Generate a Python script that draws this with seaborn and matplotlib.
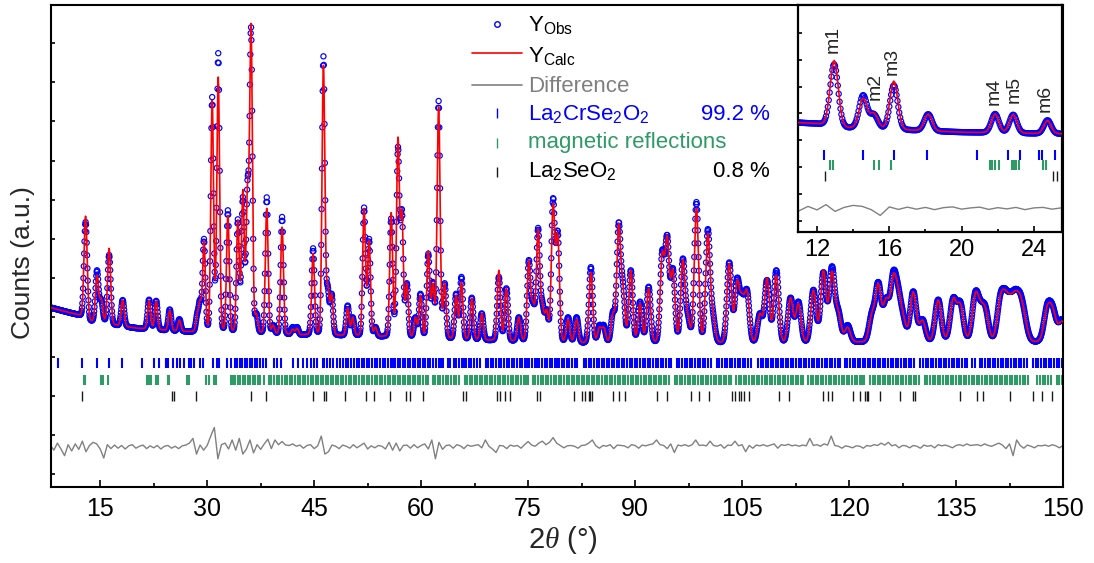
import numpy as np
import matplotlib
matplotlib.use("Agg")
import matplotlib.pyplot as plt
from matplotlib.ticker import MultipleLocator
import seaborn as sns

# ---------------------------------------------------------------- data
# Reflections of the refined pattern: 2theta (deg), calculated and observed peak tops (counts, a.u.)
peak_pos = [12.95, 14.55, 15.15, 16.25, 18.15, 21.85, 22.85, 24.75, 26.1, 28.6, 29.0, 29.55,
            30.7, 31.15, 31.55, 32.9, 34.3, 35.0, 35.65, 36.15, 36.9, 38.35, 39.25, 40.5,
            42.0, 42.6, 44.85, 46.3, 46.9, 47.45, 49.7, 50.4, 52.0, 52.7, 53.6, 55.8, 56.75,
            57.3, 58.0, 59.2, 59.9, 61.0, 61.65, 62.45, 63.3, 64.9, 65.65, 67.1, 68.5, 70.9,
            71.95, 73.7, 75.1, 75.7, 76.4, 77.0, 77.6, 78.5, 79.15, 80.6, 81.8, 83.8, 85.0,
            85.6, 86.9, 87.7, 88.3, 89.4, 90.7, 91.9, 93.8, 94.5, 95.3, 96.7, 97.4, 98.6,
            100.2, 100.9, 103.2, 104.3, 105.0, 105.7, 107.5, 108.5, 109.8, 111.8, 112.9,
            115.0, 116.4, 117.6, 118.5, 119.8, 123.2, 124.1, 125.2, 126.2, 126.9, 127.6,
            129.0, 130.3, 132.5, 134.6, 135.6, 137.7, 138.4, 139.1, 141.2, 141.9, 142.6,
            143.3, 144.0, 144.6, 147.8, 148.6, 149.9]
peak_calc = [6.58, 5.08, 4.50, 5.76, 4.44, 4.44, 4.42, 4.18, 3.93, 4.10, 4.45, 5.95,
             9.54, 5.00, 10.13, 6.60, 6.48, 7.26, 7.40, 11.50, 4.10, 6.78, 3.80, 6.30,
             3.70, 3.72, 5.63, 10.43, 4.87, 4.60, 4.25, 4.00, 6.78, 5.97, 3.75, 6.67, 8.60,
             6.73, 4.87, 4.00, 4.57, 5.70, 4.87, 9.37, 4.87, 4.57, 4.90, 4.49, 4.10, 5.20,
             4.74, 4.00, 5.46, 4.40, 6.25, 4.36, 4.20, 6.91, 6.15, 3.95, 3.95, 5.15, 3.75,
             3.75, 4.13, 6.40, 4.87, 5.20, 4.36, 4.74, 5.66, 6.10, 5.23, 5.48, 4.10, 6.79,
             6.15, 4.18, 5.38, 4.95, 4.62, 4.69, 4.10, 5.00, 5.08, 4.50, 4.36,
             4.69, 5.20, 5.18, 4.18, 3.75, 4.13, 4.87, 4.50, 5.10, 4.77, 4.10,
             4.64, 3.93, 4.44, 4.49, 4.36, 4.62, 4.44, 4.26, 4.55, 4.70, 4.60,
             4.68, 4.58, 4.10, 4.31, 4.24, 3.90]
peak_obs = [6.43, 5.20, 4.45, 5.59, 4.44, 4.45, 4.42, 4.20, 3.95, 4.10, 4.45, 6.00,
            9.62, 5.00, 10.74, 6.73, 6.50, 7.07, 7.50, 11.40, 4.10, 7.06, 3.80, 6.56,
            3.75, 3.75, 5.76, 10.66, 4.80, 4.60, 4.30, 4.00, 6.80, 6.00, 3.75, 6.52, 8.35,
            6.75, 4.87, 4.00, 4.60, 5.62, 4.90, 9.52, 4.87, 4.60, 5.03, 4.50, 4.10, 5.03,
            4.74, 4.00, 5.46, 4.40, 6.28, 4.40, 4.20, 7.04, 6.20, 4.00, 4.00, 5.28, 3.80,
            3.80, 4.15, 6.42, 4.90, 5.20, 4.40, 4.78, 5.70, 6.10, 5.25, 5.50, 4.10, 6.94,
            6.25, 4.20, 5.40, 5.00, 4.62, 4.70, 4.10, 4.95, 5.20, 4.50, 4.40,
            4.70, 5.15, 5.30, 4.20, 3.80, 4.15, 4.90, 4.50, 5.18, 4.80, 4.10,
            4.66, 3.95, 4.45, 4.50, 4.40, 4.65, 4.45, 4.30, 4.58, 4.73, 4.65,
            4.72, 4.62, 4.15, 4.35, 4.28, 3.95]

# Refined background (counts, a.u.)
bg_2theta = [8, 10, 12, 13.5, 16, 20, 25, 30, 40, 50, 60, 70, 80, 90, 100, 110, 120, 130, 140, 150]
bg_counts = [4.25, 4.15, 4.05, 3.88, 3.82, 3.72, 3.65, 3.60, 3.55, 3.52, 3.45, 3.40, 3.33,
             3.32, 3.32, 3.30, 3.35, 3.35, 3.35, 3.35]

# Instrumental resolution: peak FWHM (deg) versus 2theta
res_2theta = [8, 30, 60, 80, 100, 120, 150]
res_fwhm = [0.55, 0.45, 0.48, 0.58, 0.72, 0.92, 1.15]

# Difference curve Yobs - Ycalc, every 0.5 deg from 8 to 150 deg
diff_2theta = np.arange(8.0, 150.01, 0.5)
diff_counts = [
    0.05, -0.08, 0.10, -0.05, -0.22, 0.06, -0.10, 0.08, -0.06, 0.15,
    -0.12, 0.04, 0.12, 0.08, -0.05, -0.28, 0.06, -0.04, 0.05, -0.03,
    0.04, -0.05, 0.03, 0.06, -0.03, 0.02, 0.05, -0.04, 0.03, -0.02,
    0.04, -0.05, 0.02, 0.04, -0.03, 0.02, -0.04, 0.03, 0.05, 0.10,
    0.22, -0.18, 0.05, -0.08, 0.04, 0.28, 0.50, -0.30, 0.06, 0.10,
    -0.05, 0.18, -0.08, 0.22, -0.18, -0.05, 0.18, -0.15, 0.06, -0.06,
    0.08, 0.20, -0.04, 0.18, 0.06, 0.14, 0.05, 0.04, 0.08, 0.02,
    0.05, -0.03, 0.04, 0.06, -0.04, 0.03, 0.28, -0.18, -0.12, 0.05,
    0.02, -0.04, 0.05, 0.02, -0.03, 0.06, -0.02, 0.04, 0.10, -0.05,
    0.03, -0.02, 0.04, 0.02, -0.05, 0.12, -0.08, 0.10, -0.10, 0.04,
    0.05, -0.03, 0.06, -0.02, 0.04, 0.08, -0.05, 0.18, -0.30, 0.12,
    -0.06, 0.04, 0.05, -0.03, 0.06, 0.03, -0.04, 0.05, 0.02, 0.04,
    0.06, -0.02, 0.18, 0.02, -0.05, -0.14, 0.04, 0.03, -0.04, 0.05,
    0.02, 0.04, -0.03, 0.06, 0.14, 0.05, 0.02, 0.10, 0.15, 0.06,
    0.12, 0.24, 0.10, 0.04, -0.02, 0.03, 0.04, 0.02, -0.03, 0.04,
    0.05, 0.10, 0.18, 0.03, -0.03, 0.04, 0.02, 0.06, -0.04, 0.05,
    0.04, 0.03, -0.02, 0.06, 0.04, -0.03, 0.05, 0.03, 0.06, 0.08,
    0.18, 0.06, 0.04, -0.04, 0.08, -0.14, 0.05, 0.03, 0.06, 0.02,
    0.06, 0.18, 0.04, 0.05, 0.03, 0.15, 0.04, 0.02, 0.06, -0.03,
    0.05, 0.04, 0.15, 0.03, 0.06, -0.12, 0.04, -0.03, 0.05, 0.03,
    0.06, 0.02, 0.05, 0.08, -0.03, 0.06, 0.04, 0.07, 0.03, 0.05,
    0.02, 0.05, 0.03, 0.22, 0.04, 0.06, 0.02, 0.08, 0.05, 0.28,
    0.04, 0.02, -0.03, 0.03, 0.01, -0.02, 0.03, 0.02, -0.03, 0.04,
    0.02, 0.06, 0.04, 0.10, 0.05, 0.12, 0.03, 0.06, -0.02, 0.04,
    0.03, -0.02, 0.04, 0.02, -0.03, 0.05, 0.02, 0.04, -0.02, 0.06,
    0.03, 0.05, 0.02, -0.02, 0.04, 0.06, 0.03, 0.08, 0.04, 0.05,
    0.06, 0.03, 0.08, 0.04, 0.02, 0.06, 0.10, 0.05, -0.04, 0.08,
    -0.22, 0.18, 0.04, -0.03, 0.05, 0.02, -0.02, 0.04, 0.03, 0.05,
    0.02, 0.06, 0.03, -0.02, 0.04]

# Bragg positions (deg)
ticks_main = [9.1, 12.4, 14.52, 16.25, 18.11, 20.85, 22.57, 23.25, 24.28, 24.47, 25.15, 25.7,
              26.2, 26.75, 27.45, 27.8, 28.15, 29.0, 29.46, 30.77, 31.33, 31.7, 32.74, 33.3,
              33.9, 34.23, 34.6, 34.9, 35.3, 35.6, 36.0, 36.3, 36.7, 37.0, 37.4, 37.8, 38.2,
              39.3, 39.8, 40.3, 42.1, 42.8, 43.5, 44.0, 44.5, 45.0, 45.45, 46.2, 46.4, 46.8,
              47.2, 47.7, 48.2, 48.6, 49.0, 49.5, 49.8, 50.2, 50.6, 51.0, 51.3, 51.7, 52.0,
              52.4, 52.7, 53.1, 53.5, 53.8, 54.2, 54.6, 54.9, 55.3, 55.8, 56.1, 56.4, 56.8,
              57.1, 57.4, 57.8, 58.1, 58.5, 58.9, 59.2, 59.6, 59.9, 60.3, 60.6, 61.0, 61.3,
              61.7, 62.1, 62.5, 62.8, 63.1, 63.7, 64.0, 64.6, 64.9, 65.3, 65.7, 66.0, 66.3,
              66.7, 67.0, 67.4, 67.8, 68.2, 69.1, 69.4, 69.8, 70.1, 70.5, 70.9, 71.2, 71.6,
              72.0, 72.3, 72.7, 73.0, 73.4, 73.8, 74.1, 74.5, 74.8, 75.1, 75.5, 75.9, 76.2,
              76.5, 76.9, 77.3, 77.6, 78.0, 78.4, 78.7, 79.1, 79.4, 79.8, 80.1, 80.5, 80.8,
              81.2, 81.6, 81.9, 82.8, 83.1, 83.5, 83.8, 84.2, 84.6, 84.9, 85.3, 85.7, 86.0,
              86.4, 86.7, 87.1, 87.5, 87.8, 88.2, 88.5, 88.9, 89.3, 89.6, 90.0, 90.3, 90.7,
              91.1, 91.4, 91.8, 92.1, 92.5, 92.9, 93.2, 93.6, 93.9, 94.3, 94.7, 95.0, 95.9,
              96.2, 96.6, 97.0, 97.3, 97.7, 98.0, 98.4, 98.8, 99.1, 99.5, 99.8, 100.2, 100.6,
              101.5, 101.8, 102.2, 102.6, 102.9, 103.3, 103.6, 104.0, 104.4, 104.7, 105.1,
              105.4, 105.8, 106.2, 107.2, 107.6, 107.9, 108.3, 108.6, 109.0, 109.4, 109.7,
              110.1, 110.4, 110.8, 111.2, 111.5, 111.9, 112.2, 112.6, 113.0, 113.3, 113.7,
              114.0, 114.4, 114.8, 115.1, 115.5, 115.8, 116.2, 116.6, 116.9, 117.3, 117.6,
              118.0, 118.4, 118.7, 119.4, 119.7, 120.1, 120.5, 120.8, 121.2, 121.5, 121.9,
              122.3, 122.6, 123.0, 123.3, 123.7, 124.1, 124.4, 124.8, 125.1, 125.5, 125.9,
              126.2, 126.6, 126.9, 127.3, 127.7, 128.0, 128.4, 128.7, 129.1, 130.0, 130.4,
              130.8, 131.1, 131.5, 131.8, 132.2, 132.6, 132.9, 133.3, 133.6, 134.0, 134.4,
              134.7, 135.1, 135.4, 135.8, 136.2, 136.5, 137.3, 137.6, 138.4, 138.7, 139.1,
              139.5, 139.8, 140.2, 140.5, 140.9, 141.3, 141.6, 142.0, 142.3, 142.7, 143.1,
              143.4, 143.8, 144.1, 144.5, 144.9, 145.8, 146.2, 146.5, 146.9, 147.3, 147.6,
              148.0, 148.3, 148.7, 149.1, 149.4, 149.8]
ticks_mag = [12.72, 12.87, 15.17, 15.44, 16.09, 21.56, 21.69, 21.87, 22.06, 22.76, 22.88,
             23.03, 23.16, 24.50, 24.65, 27.2, 27.5, 29.8, 30.2, 30.9, 31.3, 33.3, 33.6,
             33.9, 34.3, 34.6, 35.0, 35.3, 35.7, 36.0, 36.4, 36.7, 37.1, 37.4, 38.0, 38.7,
             39.0, 39.4, 39.8, 40.1, 40.5, 40.9, 41.2, 41.6, 41.9, 42.3, 42.7, 43.0, 43.4,
             43.7, 44.1, 44.5, 44.8, 45.2, 45.5, 45.9, 46.3, 46.6, 47.0, 47.3, 47.7, 48.1,
             48.4, 48.8, 49.1, 49.5, 49.9, 50.2, 50.6, 50.9, 51.3, 51.7, 52.0, 52.4, 52.7,
             53.1, 53.5, 53.8, 54.2, 54.5, 54.9, 55.3, 55.6, 56.0, 56.3, 56.7, 57.1, 57.4,
             57.8, 58.1, 58.5, 58.9, 59.2, 59.6, 59.9, 60.3, 60.7, 61.0, 61.7, 62.0, 62.4,
             62.7, 63.1, 63.5, 63.8, 64.2, 64.6, 64.9, 65.3, 66.1, 66.4, 66.8, 67.2, 67.5,
             67.9, 68.2, 68.6, 69.0, 69.3, 69.7, 70.0, 70.4, 70.8, 71.1, 71.5, 71.8, 72.2,
             72.6, 72.9, 73.3, 73.6, 74.0, 74.4, 74.7, 75.0, 75.7, 76.0, 76.4, 76.8, 77.1,
             77.5, 77.8, 78.2, 78.6, 78.9, 79.3, 79.6, 80.0, 80.4, 80.7, 81.1, 81.4, 81.8,
             82.2, 82.5, 82.9, 83.2, 83.6, 84.0, 84.3, 84.7, 85.0, 85.4, 85.8, 86.1, 86.5,
             86.8, 87.2, 87.6, 87.9, 88.3, 88.6, 89.0, 89.4, 89.7, 90.1, 90.4, 90.8, 91.2,
             91.5, 91.9, 92.2, 92.6, 93.0, 93.3, 93.7, 94.0, 94.4, 94.8, 95.6, 95.9, 96.3,
             96.6, 97.0, 97.4, 97.7, 98.1, 98.4, 98.8, 99.2, 99.5, 99.9, 100.2, 100.6,
             101.0, 101.3, 101.7, 102.0, 102.4, 102.8, 103.1, 103.5, 104.2, 104.6, 104.9,
             105.3, 105.6, 106.0, 106.4, 106.7, 107.1, 107.4, 107.8, 108.2, 108.5, 108.9,
             109.2, 109.6, 110.0, 110.3, 110.7, 111.0, 111.4, 111.8, 112.1, 112.5, 112.8,
             113.2, 113.6, 114.3, 114.6, 115.0, 115.4, 115.7, 116.1, 116.4, 116.8, 117.2,
             117.5, 117.9, 118.2, 118.6, 119.0, 119.3, 119.7, 120.0, 120.4, 120.8, 121.1,
             121.5, 121.8, 122.1, 123.0, 123.3, 123.7, 124.0, 124.4, 124.8, 125.1, 125.5,
             125.8, 126.2, 126.6, 126.9, 127.3, 127.6, 128.0, 128.4, 128.7, 129.1, 129.4,
             129.8, 130.7, 131.0, 131.4, 131.8, 132.1, 132.5, 132.8, 133.2, 133.6, 133.9,
             134.3, 134.6, 135.0, 135.4, 135.7, 136.1, 136.4, 136.8, 137.2, 137.5, 137.9,
             138.2, 138.6, 139.0, 139.3, 139.7, 140.0, 140.4, 140.8, 141.1, 141.5, 141.8,
             142.2, 142.6, 142.9, 143.3, 143.6, 144.0, 144.4, 144.7, 145.1, 146.4, 146.8,
             147.2, 147.5, 147.9, 148.3, 149.2, 149.5, 149.9]
ticks_imp = [12.45, 25.05, 25.3, 28.4, 36.1, 38.2, 44.8, 46.4, 46.6, 49.3, 52.3, 53.4, 55.6,
             57.9, 58.5, 60.2, 65.8, 66.3, 70.6, 71.1, 71.8, 72.4, 76.3, 76.6, 81.4, 82.5,
             83.0, 83.5, 83.7, 83.9, 86.9, 87.8, 88.6, 93.05, 94.5, 97.9, 98.9, 100.4, 103.6,
             104.0, 104.5, 104.8, 105.3, 106.0, 110.2, 111.65, 116.3, 117.1, 117.6, 120.5,
             121.5, 122.2, 122.5, 122.7, 124.4, 127.2, 128.95, 129.3, 135.5, 138.0, 138.8,
             142.6, 145.8, 147.05, 148.45]

phase_labels = [r"La$_2$CrSe$_2$O$_2$", "magnetic reflections", r"La$_2$SeO$_2$"]
phase_fractions = ["99.2 %", None, "0.8 %"]
mag_labels = ["m1", "m2", "m3", "m4", "m5", "m6"]
mag_label_pos = [12.88, 15.2, 16.15, 21.8, 22.9, 24.6]
mag_label_base = [6.88, 5.00, 6.00, 4.81, 4.89, 4.53]

# ---------------------------------------------------------------- style
sns.set_theme(style="ticks", rc={"axes.edgecolor": "black", "xtick.color": "black",
                                 "ytick.color": "black", "axes.linewidth": 1.5})
plt.rcParams["font.family"] = ["Liberation Sans", "DejaVu Sans"]
plt.rcParams["mathtext.fontset"] = "custom"
plt.rcParams["mathtext.rm"] = "Liberation Sans"
plt.rcParams["mathtext.it"] = "Liberation Serif:italic"
plt.rcParams["mathtext.bf"] = "Liberation Sans:bold"

C_OBS = "#0000ff"
C_CALC = "#ff0000"
C_DIFF = "#808080"
C_MAG = "#2e9a66"
C_IMP = "#1a1a1a"

Y_MAIN, Y_MAG, Y_IMP, Y_DIFF = 2.83, 2.40, 1.98, 0.69

# ---------------------------------------------------------------- profile
def pseudo_voigt(x, c, w, eta=0.1):
    u = (x - c) / w
    return (1 - eta) * np.exp(-4 * np.log(2) * u ** 2) + eta / (1 + 4 * u ** 2)

P = np.array(peak_pos)
W = np.interp(P, res_2theta, res_fwhm)
M = pseudo_voigt(P[:, None], P[None, :], W[None, :])


def amplitudes(tops):
    target = np.array(tops) - np.interp(P, bg_2theta, bg_counts)
    amp = target.clip(0)
    for _ in range(400):
        amp = np.clip(amp + 0.5 * (target - M @ amp), 0, None)
    return amp


x = np.arange(8.2, 150.0, 0.05)
shapes = pseudo_voigt(x[:, None], P[None, :], W[None, :])
bg = np.interp(x, bg_2theta, bg_counts)
y_calc = bg + shapes @ amplitudes(peak_calc)
y_obs = bg + shapes @ amplitudes(peak_obs)
y_diff = Y_DIFF + np.array(diff_counts)


def draw_pattern(ax, sel=None):
    xs, yo, yc = x, y_obs, y_calc
    if sel is not None:
        m = (x >= sel[0]) & (x <= sel[1])
        xs, yo, yc = x[m], y_obs[m], y_calc[m]
    sns.scatterplot(x=xs, y=yo, ax=ax, marker="o", s=14, facecolor="none",
                    edgecolor=C_OBS, linewidth=0.85, zorder=2)
    sns.lineplot(x=xs, y=yc, ax=ax, color=C_CALC, linewidth=1.2, estimator=None,
                 errorbar=None, zorder=3)
    sns.lineplot(x=diff_2theta, y=y_diff, ax=ax, color=C_DIFF, linewidth=1.0,
                 estimator=None, errorbar=None, zorder=2)
    for pos, yv, col, lw in [(ticks_main, Y_MAIN, C_OBS, 1.5), (ticks_mag, Y_MAG, C_MAG, 1.5),
                             (ticks_imp, Y_IMP, C_IMP, 1.0)]:
        sns.scatterplot(x=pos, y=[yv] * len(pos), ax=ax, marker="|", s=55,
                        color=col, linewidth=lw, zorder=2)


# ---------------------------------------------------------------- figure
fig = plt.figure(figsize=(10.94, 5.63), dpi=100)
W_PX, H_PX = 1094, 563

ax = fig.add_axes([51 / W_PX, 1 - 487 / H_PX, 1012 / W_PX, 482 / H_PX])
draw_pattern(ax)
ax.set_xlim(8.1, 150)
ax.set_ylim(-0.33, 11.97)
ax.xaxis.set_major_locator(MultipleLocator(15))
ax.xaxis.set_minor_locator(MultipleLocator(7.5))
ax.set_yticks(np.arange(0, 12))
ax.tick_params(axis="x", which="major", direction="in", length=5, width=1.2,
               labelsize=18, pad=7, top=False)
ax.tick_params(axis="x", which="minor", direction="in", length=3, width=1.2, top=False)
ax.tick_params(axis="y", which="major", direction="in", length=3, width=1.2,
               labelleft=False, right=False)
for s in ax.spines.values():
    s.set_linewidth(1.5)
    s.set_color("black")
ax.set_xlabel("")
ax.set_ylabel("")

fig.text(23 / W_PX, 1 - 263 / H_PX, "Counts (a.u.)", rotation=90, ha="center",
         va="center", fontsize=19)
fig.text(563 / W_PX, 1 - 540 / H_PX, r"2$\theta$ (°)", ha="center", va="center",
         fontsize=21)

# legend, drawn in figure pixel coordinates
def fx(px):
    return px / W_PX


def fy(py):
    return 1 - py / H_PX


tf = fig.transFigure
ax.plot([fx(497)], [fy(24)], marker="o", ms=4, mfc="none", mec=C_OBS, mew=1.0,
        transform=tf, clip_on=False)
ax.plot([fx(472), fx(522)], [fy(53), fy(53)], color=C_CALC, lw=1.2, transform=tf,
        clip_on=False)
ax.plot([fx(472), fx(522)], [fy(85), fy(85)], color=C_DIFF, lw=1.2, transform=tf,
        clip_on=False)
for py, col in [(113, C_OBS), (143, C_MAG), (172, C_IMP)]:
    ax.plot([fx(497)], [fy(py)], marker="|", ms=7, mew=1.0, color=col, transform=tf,
            clip_on=False)

FS = 16
fig.text(fx(528), fy(31), r"Y$_{\mathrm{Obs}}$", fontsize=FS, va="baseline", color="black")
fig.text(fx(528), fy(62), r"Y$_{\mathrm{Calc}}$", fontsize=FS, va="baseline", color="black")
fig.text(fx(528), fy(92), "Difference", fontsize=FS, va="baseline", color=C_DIFF)
for lab, frac, py, col in zip(phase_labels, phase_fractions, [120, 148, 177],
                              [C_OBS, C_MAG, "black"]):
    fig.text(fx(528), fy(py), lab, fontsize=FS, va="baseline", color=col)
    if frac:
        fig.text(fx(770), fy(py), frac, fontsize=FS, va="baseline", ha="right", color=col)

# ---------------------------------------------------------------- inset
axin = fig.add_axes([798 / W_PX, 1 - 232 / H_PX, 264 / W_PX, 227 / H_PX])
axin.set_facecolor("white")
draw_pattern(axin, sel=(10.5, 26.0))
axin.set_xlim(10.95, 25.55)
axin.set_ylim(-0.25, 8.79)
axin.xaxis.set_major_locator(MultipleLocator(4))
axin.xaxis.set_minor_locator(MultipleLocator(2))
axin.set_yticks(np.linspace(0.19, 7.68, 8))
axin.tick_params(axis="x", which="major", direction="in", length=4, width=1.2,
                 labelsize=17, pad=5, top=False)
axin.tick_params(axis="x", which="minor", direction="in", length=2.5, width=1.2, top=False)
axin.tick_params(axis="y", direction="in", length=3, width=1.2, labelleft=False, right=False)
for s in axin.spines.values():
    s.set_linewidth(1.6)
    s.set_color("black")
axin.set_xlabel("")
axin.set_ylabel("")
for lab, xp, yb in zip(mag_labels, mag_label_pos, mag_label_base):
    axin.text(xp, yb, lab, rotation=90, ha="center", va="bottom", fontsize=14)

fig.savefig("out.png", dpi=100)
